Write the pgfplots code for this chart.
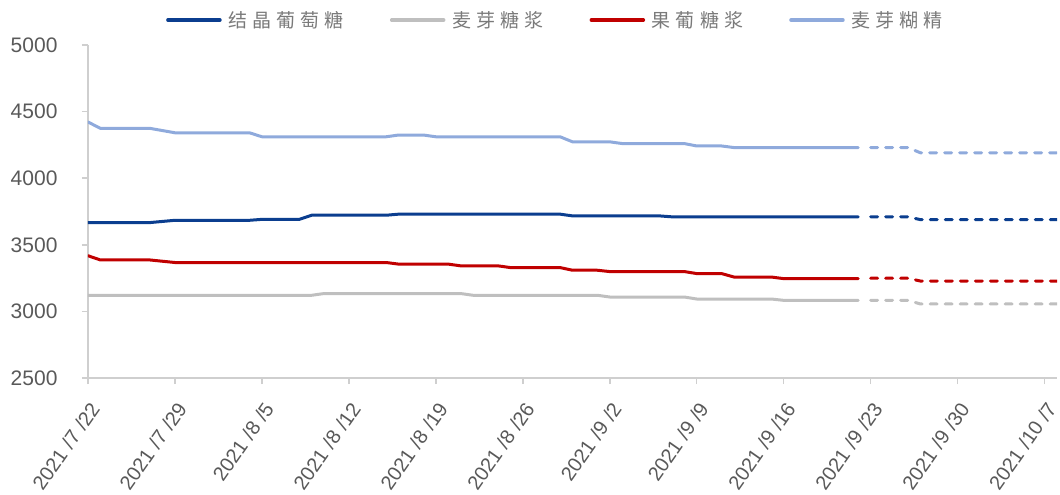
\documentclass[border=0pt]{standalone}
\usepackage{fontspec}
\setmainfont{Liberation Sans}
\newfontfamily\cjk[LetterSpace=27]{Noto Sans CJK SC}
\usepackage{pgfplots}
\pgfplotsset{compat=1.18}
\definecolor{cDark}{HTML}{0B3E8F}
\definecolor{cGray}{HTML}{BFBFBF}
\definecolor{cRed}{HTML}{C00000}
\definecolor{cLight}{HTML}{8FAADC}
\definecolor{axisgray}{HTML}{CFCFCF}
\definecolor{txt}{HTML}{595959}
\definecolor{legtxt}{HTML}{7A7A7A}
\newcommand\dt[2]{2021\kern6pt/#1\kern6pt/#2}
\begin{document}
\begin{tikzpicture}[x=1pt,y=1pt]
\path[use as bounding box] (-88pt,-117pt) rectangle (972pt,378pt);
\begin{axis}[
  at={(0pt,0pt)}, anchor=south west,
  scale only axis, width=969pt, height=333pt,
  xmin=0, xmax=78, ymin=2500, ymax=5000,
  axis x line*=bottom, axis y line*=left,
  axis line style={axisgray, line width=2pt},
  tick style={axisgray, line width=1.5pt},
  tick align=outside, major tick length=6pt,
  ytick={2500,3000,3500,4000,4500,5000},
  xtick={0,7,14,21,28,35,42,49,56,63,70,77},
  xticklabels={{\dt{7}{22}},{\dt{7}{29}},{\dt{8}{5}},{\dt{8}{12}},{\dt{8}{19}},{\dt{8}{26}},{\dt{9}{2}},{\dt{9}{9}},{\dt{9}{16}},{\dt{9}{23}},{\dt{9}{30}},{\dt{10}{7}}},
  /pgf/number format/assume math mode=true,
  yticklabel style={/pgf/number format/1000 sep={}, font=\fontsize{21}{24}\selectfont, text=txt, xshift=-21pt},
  xticklabel style={font=\fontsize{20}{22}\selectfont, text=txt, xshift=9pt, yshift=-18pt, rotate=55, anchor=east},
  legend style={at={(0.4825,1.075)}, anchor=center, draw=none, fill=none,
    legend columns=4, font=\cjk\fontsize{19}{22}\selectfont, text=legtxt,
    /tikz/every even column/.append style={column sep=44pt}},
  legend image code/.code={\draw[#1, line width=3.5pt, solid] (0pt,0pt) -- (52pt,0pt); \path (57pt,0pt);},
  every axis plot/.append style={line width=3pt, line join=round},
]
% 结晶葡萄糖
\addplot[cDark, line cap=round] coordinates {(0,3667)(5,3667)(7,3684)(13,3684)(14,3691)(17,3691)(18,3722)(24,3722)(25,3730)(38,3730)(39,3717)(46,3717)(47,3710)(62,3710)};
\addlegendentry{结晶葡萄糖}
% 麦芽糖浆
\addplot[cGray, line cap=round] coordinates {(0,3121)(18,3121)(19,3134)(30,3134)(31,3121)(41,3121)(42,3108)(48,3108)(49,3093)(55,3093)(56,3083)(62,3083)};
\addlegendentry{麦芽糖浆}
% 果葡糖浆
\addplot[cRed, line cap=round] coordinates {(0,3418)(1,3386)(5,3386)(7,3367)(24,3367)(25,3355)(29,3355)(30,3342)(33,3342)(34,3329)(38,3329)(39,3309)(41,3309)(42,3299)(48,3299)(49,3284)(51,3284)(52,3258)(55,3258)(56,3246)(62,3246)};
\addlegendentry{果葡糖浆}
% 麦芽糊精
\addplot[cLight, line cap=round] coordinates {(0,4422)(1,4374)(5,4374)(7,4341)(13,4341)(14,4311)(24,4311)(25,4324)(27,4324)(28,4311)(38,4311)(39,4273)(42,4273)(43,4260)(48,4260)(49,4242)(51,4242)(52,4230)(62,4230)};
\addlegendentry{麦芽糊精}
% forecasts (dashed)
\addplot[cDark, forget plot, line cap=round, dash pattern=on 7pt off 8pt] coordinates {(63,3710)(66,3710)(67,3689)(78,3689)};
\addplot[cGray, forget plot, line cap=round, dash pattern=on 7pt off 8pt] coordinates {(63,3083)(66,3083)(67,3056)(78,3056)};
\addplot[cRed, forget plot, line cap=round, dash pattern=on 7pt off 8pt] coordinates {(63,3249)(66,3249)(67,3228)(78,3228)};
\addplot[cLight, forget plot, line cap=round, dash pattern=on 7pt off 8pt] coordinates {(63,4230)(66,4230)(67,4191)(78,4191)};
\end{axis}
\end{tikzpicture}
\end{document}
